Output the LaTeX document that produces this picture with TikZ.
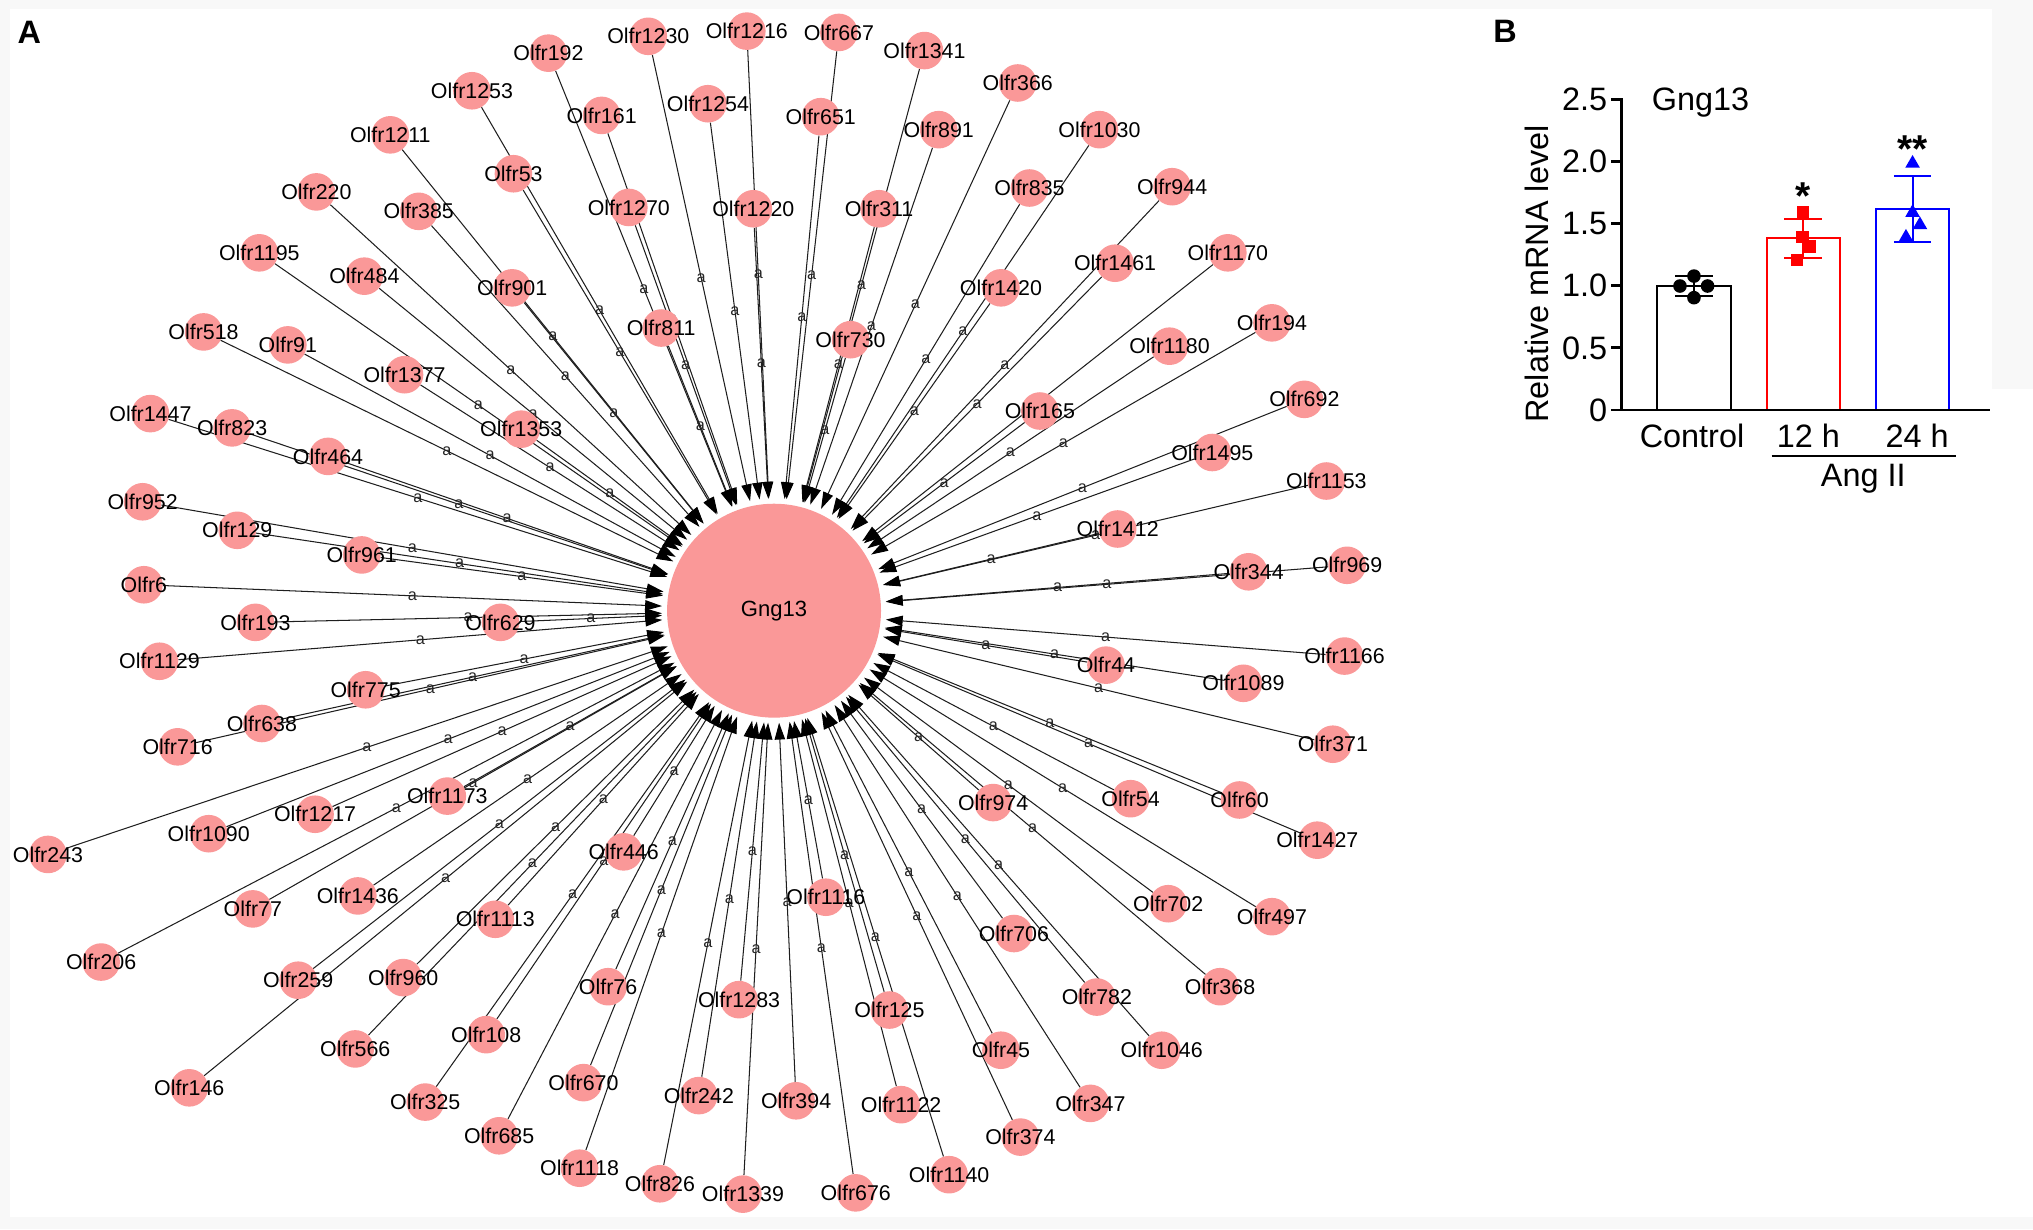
\documentclass[tikz,border=0pt]{standalone}
\usepackage{fontspec}
\setmainfont{Liberation Sans}
\usetikzlibrary{arrows.meta,shapes.geometric,calc}
\pgfdeclarelayer{bg}
\pgfsetlayers{bg,main}
\definecolor{pinkc}{RGB}{250,152,152}
\definecolor{framec}{RGB}{248,248,248}
\definecolor{edgec}{RGB}{30,30,30}
\tikzset{
  olf/.style={circle, fill=pinkc, minimum size=29pt, inner sep=0pt, label={[olflbl]center:#1}},
  olflbl/.style={font=\fontsize{16.5}{18}\selectfont, inner sep=0pt, text=black},
  hub/.style={circle, fill=pinkc, minimum size=165pt, inner sep=0pt, outer sep=4pt, font=\fontsize{17}{19}\selectfont},
  edge/.style={draw=edgec, line width=0.8pt, -{Triangle[length=13pt,width=8pt,color=black]}},
  elab/.style={font=\fontsize{12.5}{13}\selectfont, inner sep=0pt, text=black!85},
  panel/.style={font=\bfseries\fontsize{25}{27}\selectfont, inner sep=0pt},
  axis/.style={line width=2.2pt, line cap=rect},
  chart/.style={font=\fontsize{25}{27}\selectfont, inner sep=0pt},
  bar/.style={line width=1.6pt},
  errb/.style={line width=1.6pt},
  dotm/.style={circle, fill=black, minimum size=10.5pt, inner sep=0pt},
  sqm/.style={rectangle, fill=red, minimum size=9.5pt, inner sep=0pt},
  trim/.style={regular polygon, regular polygon sides=3, fill=blue, minimum size=13pt, inner sep=0pt},
  starl/.style={font=\bfseries\fontsize{30}{32}\selectfont, inner sep=0pt, anchor=base}
}
\begin{document}
\begin{tikzpicture}[x=1pt,y=-1pt]
\useasboundingbox (0,0) rectangle (1568,948);
\begin{pgfonlayer}{bg}
\fill[framec] (0,0) rectangle (1568,948);
\fill[white] (7.7,6.9) rectangle (1536.3,938.6);
\fill[white] (1536,300) rectangle (1568,938.6);
\end{pgfonlayer}

% panel labels
\node[panel] (lblA) at (22.6,24.7) {A};
\node[panel] (lblB) at (1160.8,24.4) {B};

% hub
\node[hub] (g) at (597,471) {Gng13};

% satellite nodes
\foreach \n/\x/\y in {
 192/423/41, 1230/500/28, 1216/576/24, 667/647/25, 1341/713/39,
 1253/364/70, 161/464/89, 1254/546/80, 651/633/90, 891/724/100,
 366/785/64, 1030/848/100, 53/396/134, 1270/485/160, 1220/581/161,
 311/678/161, 835/794/145, 944/904/144, 1211/301/104, 220/244/148,
 385/323/163, 1195/200/195, 484/281/213, 901/395/222, 811/510/253,
 730/656/262, 1420/772/222, 1461/860/203, 1170/947/195, 518/157/256,
 91/222/266, 1377/312/289, 1180/902/267, 194/981/249, 165/802/317,
 692/1006/308, 1447/116/319, 823/179/330, 464/253/352, 1353/402/331,
 952/110/387, 129/183/409, 961/279/428, 6/111/451, 193/197/480,
 629/386/480, 1129/123/510, 775/282/532, 638/202/558, 716/137/576,
 1173/345/614, 1217/243/628, 1090/161/643, 243/37/659, 77/195/701,
 1436/276/691, 206/78/742, 259/230/756, 960/311/754, 566/274/809,
 146/146/839, 325/328/850, 1113/382/709, 446/481/657, 108/375/798,
 76/469/761, 670/450/835, 685/385/876, 1118/447/901, 826/509/913,
 1339/573/921, 676/660/920, 242/539/845, 394/614/849, 1283/570/771,
 1116/637/692, 125/686/779, 1122/695/852, 1140/732/906, 374/787/877,
 347/841/851, 45/772/810, 1046/896/810, 782/846/769, 706/782/720,
 368/941/761, 702/901/697, 497/981/707, 1427/1016/648, 974/766/619,
 54/872/616, 60/956/617, 371/1028/574, 1089/959/527, 44/853/513,
 1166/1037/506, 344/963/441, 969/1039/436, 1412/862/408, 1153/1023/371,
 1495/935/349}
 \node[olf=Olfr\n] (o\n) at (\x,\y) {};

% edges
\begin{pgfonlayer}{bg}
\foreach \n in {192,1230,1216,667,1341,1253,161,1254,651,891,366,1030,53,1270,1220,
 311,835,944,1211,220,385,1195,484,901,811,730,1420,1461,1170,518,91,1377,1180,194,165,
 692,1447,823,464,1353,952,129,961,6,193,629,1129,775,638,716,1173,1217,1090,243,77,
 1436,206,259,960,566,146,325,1113,446,108,76,670,685,1118,826,1339,676,242,394,1283,
 1116,125,1122,1140,374,347,45,1046,782,706,368,702,497,1427,974,54,60,371,1089,44,
 1166,344,969,1412,1153,1495}
 \draw[edge] (o\n) -- node[elab, midway] {a} (g);
\end{pgfonlayer}

% ---------- panel B ----------
\node[chart, anchor=base west] (btitle) at (1273.8,85.4) {Gng13};
\node[chart, rotate=90] (ylab) at (1185.7,211.3) {Relative mRNA level};
\node[chart, anchor=base] (xc) at (1305,345) {Control};
\node[chart, anchor=base] (x12) at (1394.7,345) {12 h};
\node[chart, anchor=base] (x24) at (1478.7,345) {24 h};
\node[chart, anchor=base] (ang) at (1437.1,375.3) {Ang II};
\coordinate (angL) at (1366.4,351.7);
\coordinate (angR) at (1508.6,351.7);
\draw[line width=2.2pt] (angL) -- (angR);
\node[starl] (st1) at (1390.3,161.5) {*};
\node[starl] (st2) at (1474.9,125) {**};

\begin{scope}[shift={(1250.7,316.2)}, y=95.8pt]
  % bars
  \draw[bar, black] (27.5,0) rectangle (84.1,1.0);
  \draw[bar, red] (111.8,0) rectangle (168.4,1.385);
  \draw[bar, blue] (196.2,0) rectangle (252.7,1.62);
  % axes
  \draw[axis] (0,2.5) -- (0,0) -- (282.7,0);
  \foreach \v/\t in {0/0,0.5/0.5,1/1.0,1.5/1.5,2/2.0,2.5/2.5} {
    \draw[axis] (0,\v) -- (-7,\v);
    \node[chart, anchor=east] (tk\t) at (-11,\v) {\t};
  }
  % error bars
  \draw[errb, black] (55.8,0.915) -- (55.8,1.08) (41.3,1.08) -- (70.3,1.08) (41.3,0.915) -- (70.3,0.915);
  \draw[errb, red] (140.1,1.22) -- (140.1,1.54) (125.6,1.54) -- (154.6,1.54) (125.6,1.22) -- (154.6,1.22);
  \draw[errb, blue] (224.4,1.355) -- (224.4,1.88) (209.9,1.88) -- (238.9,1.88) (209.9,1.355) -- (238.9,1.355);
  % points
  \node[dotm] (c1) at (55.8,1.078) {};
  \node[dotm] (c2) at (45,0.998) {};
  \node[dotm] (c3) at (66.3,0.998) {};
  \node[dotm] (c4) at (55.8,0.904) {};
  \node[sqm] (r1) at (140.1,1.589) {};
  \node[sqm] (r2) at (139.6,1.39) {};
  \node[sqm] (r3) at (145.3,1.315) {};
  \node[sqm] (r4) at (135,1.208) {};
  \node[trim] (b1) at (224.4,1.985) {};
  \node[trim] (b2) at (224.4,1.589) {};
  \node[trim] (b3) at (230.1,1.49) {};
  \node[trim] (b4) at (219.3,1.39) {};
\end{scope}
\end{tikzpicture}
\end{document}
